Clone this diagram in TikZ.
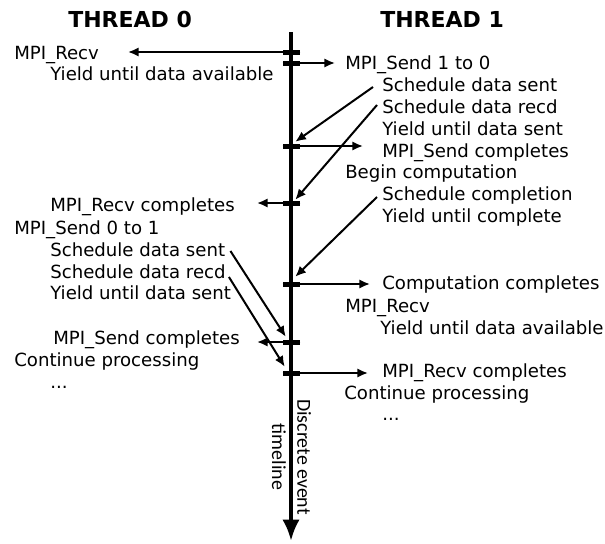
\documentclass[tikz,border=0pt]{standalone}
\usepackage{fontspec}
\setmainfont{DejaVu Sans}
\newfontfamily\tlfont{Carlito}
\usetikzlibrary{arrows.meta,calc}

\begin{document}
\begin{tikzpicture}[x=0.75pt,y=-0.75pt,
  txt/.style={anchor=base west, inner sep=0pt, font=\fontsize{13.6}{16}\selectfont},
  head/.style={anchor=base west, inner sep=0pt, font=\fontsize{16.5}{19}\selectfont\bfseries},
  tick/.style={rectangle, fill=black, inner sep=0pt, minimum width=12.75pt, minimum height=3.75pt},
  conn/.style={line width=1.5pt, -{Latex[length=8pt,width=7pt]}},
  axis/.style={line width=3pt, -{Latex[length=16pt,width=13pt]}},
  tlabel/.style={rotate=-90, align=center, inner sep=0pt, font=\tlfont\fontsize{14.9}{19}\selectfont}
]
\useasboundingbox (0,0) rectangle (605,543);

% column headings
\node[head] (th0) at (68,27) {THREAD 0};
\node[head] (th1) at (380,27) {THREAD 1};

% timeline label and axis
\node[tlabel] (tl) at (291.5,457) {Discrete event\\timeline};
\coordinate (top) at (291,32);
\coordinate (bot) at (291,541);
\draw[axis] (top) -- (bot);

% events on the timeline
\node[tick] (e1) at (291.5,52) {};
\node[tick] (e2) at (291.5,63) {};
\node[tick] (e3) at (291.5,146) {};
\node[tick] (e4) at (291.5,203) {};
\node[tick] (e5) at (291.5,284) {};
\node[tick] (e6) at (291.5,342) {};
\node[tick] (e7) at (291.5,373) {};

% thread 0 texts
\node[txt] (l1) at (14,59) {MPI\_Recv};
\node[txt] (l2) at (50,80) {Yield until data available};
\node[txt] (l3) at (50,211) {MPI\_Recv completes};
\node[txt] (l4) at (14,234) {MPI\_Send 0 to 1};
\node[txt] (l5) at (50,256) {Schedule data sent};
\node[txt] (l6) at (50,278) {Schedule data recd};
\node[txt] (l7) at (50,299) {Yield until data sent};
\node[txt] (l8) at (53,344) {MPI\_Send completes};
\node[txt] (l9) at (14,366) {Continue processing};
\node[txt] (l10) at (50,388) {...};

% thread 1 texts
\node[txt] (r1) at (345,69) {MPI\_Send 1 to 0};
\node[txt] (r2) at (382,91) {Schedule data sent};
\node[txt] (r3) at (382,113) {Schedule data recd};
\node[txt] (r4) at (382,135) {Yield until data sent};
\node[txt] (r5) at (382,157) {MPI\_Send completes};
\node[txt] (r6) at (345,178) {Begin computation};
\node[txt] (r7) at (382,200) {Schedule completion};
\node[txt] (r8) at (382,222) {Yield until complete};
\node[txt] (r9) at (382,289) {Computation completes};
\node[txt] (r10) at (345,312) {MPI\_Recv};
\node[txt] (r11) at (380,334) {Yield until data available};
\node[txt] (r12) at (382,377) {MPI\_Recv completes};
\node[txt] (r13) at (344,399) {Continue processing};
\node[txt] (r14) at (382,420) {...};

% horizontal event arrows
\coordinate (a1) at (128,52);
\coordinate (a2) at (335,63);
\coordinate (a3) at (363,146);
\coordinate (a4) at (257,203);
\coordinate (a5) at (370,284);
\coordinate (a6) at (257,342);
\coordinate (a7) at (368,373);
\draw[conn] (e1.east) -- (a1);
\draw[conn] (e2.west) -- (a2);
\draw[conn] (e3.west) -- (a3);
\draw[conn] (e4.east) -- (a4);
\draw[conn] (e5.west) -- (a5);
\draw[conn] (e6.east) -- (a6);
\draw[conn] (e7.west) -- (a7);

% scheduled events
\draw[conn] ($(r2.base west)+(-9,-4)$) -- ($(e3.north east)+(-5,-1.5)$);
\draw[conn] ($(r3.base west)+(-5,-8)$) -- ($(e4.north east)+(-5,-0.5)$);
\draw[conn] ($(r7.base west)+(-5,-3)$) -- ($(e5.north east)+(-5,-4.5)$);
\draw[conn] ($(l5.base east)+(5,-5)$) -- ($(e6.north west)+(3,-2.5)$);
\draw[conn] ($(l6.base east)+(3,-1)$) -- ($(e7.north west)+(2,-3.5)$);
\end{tikzpicture}
\end{document}
